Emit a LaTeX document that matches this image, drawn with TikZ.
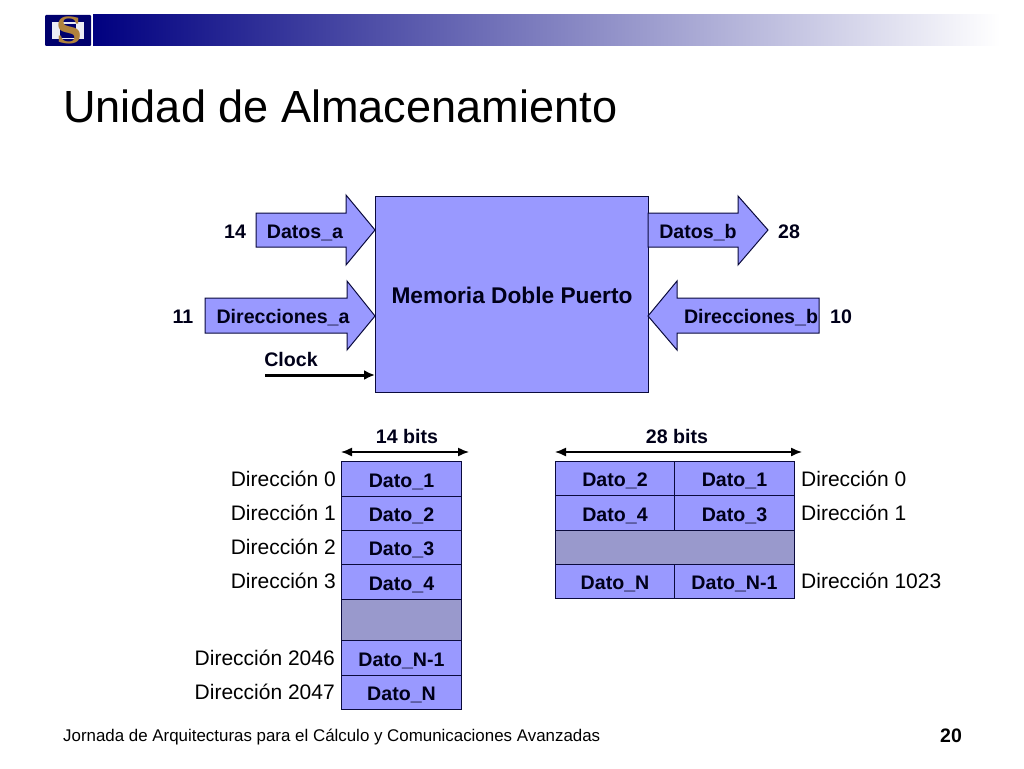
\documentclass[tikz,border=0pt]{standalone}
\usepackage{fontspec}
\setmainfont{Liberation Sans}
\newfontfamily\logofont{DejaVu Serif}
\usetikzlibrary{arrows.meta}
\definecolor{celda}{RGB}{153,153,255}
\definecolor{hueco}{RGB}{153,153,204}
\definecolor{marino}{RGB}{0,0,128}
\definecolor{borde}{RGB}{10,10,60}
\definecolor{medio}{RGB}{172,172,200}
\definecolor{oro}{RGB}{176,130,60}
\tikzset{
	bloque/.style={draw=borde,fill=celda,line width=1pt,line join=miter},
	etiqueta/.style={inner sep=0pt,text height=17pt,text depth=0pt,font=\fontsize{19.6}{22}\bfseries\selectfont,text=black!90!blue},
	celdabox/.style={bloque,etiqueta,text height=16pt,anchor=north west},
	direccion/.style={inner sep=0pt,font=\fontsize{21}{23}\selectfont,text=black},
	cota/.style={line width=1.4pt,{Latex[length=11pt,width=9pt]}-{Latex[length=11pt,width=9pt]}},
}
\begin{document}
\begin{tikzpicture}[x=1pt,y=-1pt]
	\useasboundingbox (0,0) rectangle (1024,768);
	% cabecera
	\shade[left color=marino,middle color=medio,right color=white] (93,15) rectangle (1000,46);
	\fill[marino!85!black,rounded corners=1pt] (45,15) rectangle (91,46);
	\fill[white!80!hueco] (52,22) rectangle (84,39);
	\fill[marino!85!black] (60,24) rectangle (76,38);
	\node[inner sep=0pt,font=\logofont\bfseries\fontsize{36}{36}\selectfont,text=oro] (logo) at (69,30) {S};
	\node[anchor=west,inner sep=0pt,font=\fontsize{45.1}{50}\selectfont] (titulo) at (63,106) {Unidad de Almacenamiento};
	% memoria y puertos
	\node[bloque,etiqueta,anchor=north west,minimum width=273pt,minimum height=196pt,font=\fontsize{22.7}{24}\bfseries\selectfont] (memoria) at (375,196) {Memoria Doble Puerto};
	\draw[bloque] (256,213) -- (346,213) -- (346,195) -- (375,230) -- (346,265) -- (346,247) -- (256,247) -- cycle;
	\draw[bloque] (205,298) -- (347,298) -- (347,281) -- (375,316) -- (347,350) -- (347,333) -- (205,333) -- cycle;
	\draw[bloque] (648,213) -- (738,213) -- (738,196) -- (768,230) -- (738,265) -- (738,247) -- (648,247) -- cycle;
	\draw[bloque] (819,298) -- (677,298) -- (677,281) -- (648,316) -- (677,350) -- (677,333) -- (819,333) -- cycle;
	\node[etiqueta] (datosa) at (305,230) {Datos\_a};
	\node[etiqueta] (direca) at (283,315) {Direcciones\_a};
	\node[etiqueta] (datosb) at (698,230) {Datos\_b};
	\node[etiqueta] (direcb) at (751,315) {Direcciones\_b};
	\node[etiqueta] (n14) at (235,230) {14};
	\node[etiqueta] (n11) at (183,315) {11};
	\node[etiqueta] (n28) at (789,230) {28};
	\node[etiqueta] (n10) at (841,315) {10};
	\node[etiqueta] (clock) at (291,358) {Clock};
	\coordinate (clockini) at (265,375);
	\draw[line width=3pt,-{Latex[length=11pt,width=10pt]}] (clockini) -- (memoria.west |- clockini);
	% tabla de 14 bits
	\node[celdabox,minimum width=120pt,minimum height=35pt] (a1) at (341,461) {Dato\_1};
	\node[celdabox,minimum width=120pt,minimum height=34pt] (a2) at (341,496) {Dato\_2};
	\node[celdabox,minimum width=120pt,minimum height=34pt] (a3) at (341,530) {Dato\_3};
	\node[celdabox,minimum width=120pt,minimum height=35pt] (a4) at (341,564) {Dato\_4};
	\node[celdabox,fill=hueco,minimum width=120pt,minimum height=41pt] (a5) at (341,599) {};
	\node[celdabox,minimum width=120pt,minimum height=35pt] (a6) at (341,640) {Dato\_N-1};
	\node[celdabox,minimum width=120pt,minimum height=34pt] (a7) at (341,675) {Dato\_N};
	\coordinate (cotaai) at (341,452);
	\coordinate (cotaad) at (469,452);
	\draw[cota] (cotaai) -- (cotaad);
	\node[etiqueta] (bits14) at (407,434.5) {14 bits};
	\node[direccion,anchor=east] (da0) at (336,479) {Dirección 0};
	\node[direccion,anchor=east] (da1) at (336,513) {Dirección 1};
	\node[direccion,anchor=east] (da2) at (336,547) {Dirección 2};
	\node[direccion,anchor=east] (da3) at (336,581) {Dirección 3};
	\node[direccion,anchor=east] (da4) at (335,658) {Dirección 2046};
	\node[direccion,anchor=east] (da5) at (335,692) {Dirección 2047};
	% tabla de 28 bits
	\node[celdabox,minimum width=119pt,minimum height=34pt] (b1) at (555,461) {Dato\_2};
	\node[celdabox,minimum width=120pt,minimum height=34pt] (b2) at (674,461) {Dato\_1};
	\node[celdabox,minimum width=119pt,minimum height=35pt] (b3) at (555,495) {Dato\_4};
	\node[celdabox,minimum width=120pt,minimum height=35pt] (b4) at (674,495) {Dato\_3};
	\node[celdabox,fill=hueco,minimum width=239pt,minimum height=34pt] (b5) at (555,530) {};
	\node[celdabox,minimum width=119pt,minimum height=34pt] (b6) at (555,564) {Dato\_N};
	\node[celdabox,minimum width=120pt,minimum height=34pt] (b7) at (674,564) {Dato\_N-1};
	\coordinate (cotabi) at (555,452);
	\coordinate (cotabd) at (802,452);
	\draw[cota] (cotabi) -- (cotabd);
	\node[etiqueta] (bits28) at (677,434.5) {28 bits};
	\node[direccion,anchor=west] (db0) at (801,479) {Dirección 0};
	\node[direccion,anchor=west] (db1) at (801,513) {Dirección 1};
	\node[direccion,anchor=west] (db2) at (801,581) {Dirección 1023};
	% pie
	\node[anchor=west,inner sep=0pt,font=\fontsize{16.9}{19}\selectfont] (pie) at (63,737) {Jornada de Arquitecturas para el Cálculo y Comunicaciones Avanzadas};
	\node[inner sep=0pt,font=\fontsize{19.5}{21}\bfseries\selectfont] (pagina) at (951,736) {20};
\end{tikzpicture}
\end{document}
